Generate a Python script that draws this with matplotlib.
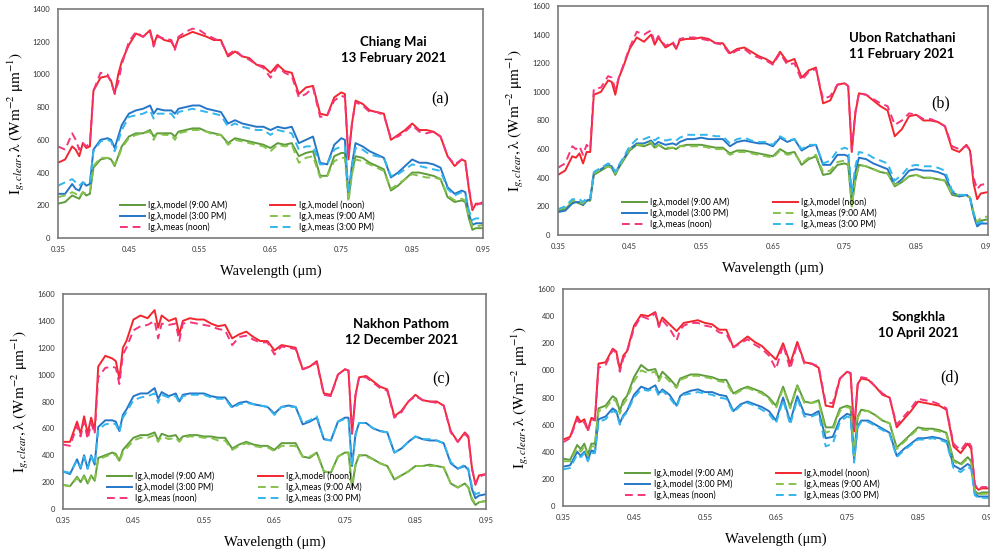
import matplotlib
matplotlib.use("Agg")
import matplotlib.pyplot as plt
import numpy as np

plt.rcParams['font.family'] = ['Lato', 'DejaVu Sans']
plt.rcParams['mathtext.fontset'] = 'stix'

# shared wavelength grid (um)
wl = [0.35, 0.36, 0.37, 0.375, 0.38, 0.385, 0.39, 0.395,
      0.40, 0.41, 0.42, 0.425, 0.43, 0.435, 0.44,
      0.45, 0.46, 0.47, 0.48, 0.485, 0.49, 0.50, 0.51, 0.515, 0.52, 0.53, 0.54,
      0.55, 0.56, 0.57, 0.58, 0.59, 0.60, 0.61, 0.62, 0.63, 0.64, 0.65, 0.66, 0.67, 0.68, 0.69, 0.70, 0.71, 0.72, 0.73, 0.74, 0.75,
      0.755, 0.76, 0.765,
      0.77, 0.78, 0.79, 0.80, 0.81, 0.82, 0.83, 0.84, 0.85, 0.86, 0.87, 0.88, 0.89, 0.90, 0.91, 0.92,
      0.925, 0.93, 0.935, 0.94, 0.95]

# (a) Chiang Mai
a_model_9am = [210, 220, 260, 250, 240, 280, 260, 270,
               430, 480, 490, 480, 440, 500, 560,
               620, 640, 640, 660, 620, 640, 640, 640, 620, 650, 660, 670,
               670, 650, 640, 630, 580, 610, 600, 590, 580, 570, 550, 580, 570, 580, 500, 520, 530, 380, 380, 500, 520,
               520, 240, 400,
               500, 490, 460, 440, 420, 290, 320, 360, 400, 400, 390, 380, 360, 250, 220, 230,
               220, 120, 50, 60, 60]
a_model_noon = [460, 480, 560, 540, 500, 580, 550, 560,
                900, 980, 990, 960, 880, 1000, 1080,
                1180, 1250, 1230, 1270, 1180, 1240, 1210, 1200, 1160, 1220, 1240, 1260,
                1245, 1230, 1210, 1210, 1110, 1140, 1110, 1100, 1060, 1050, 1010, 1060, 1020, 1010, 880, 920, 930, 760, 750, 860, 890,
                880, 480, 700,
                840, 820, 780, 770, 760, 600, 630, 660, 700, 660, 660, 650, 620, 500, 440, 480,
                470, 300, 170, 210, 210]
a_model_3pm = [270, 270, 330, 300, 290, 340, 320, 330,
               540, 600, 610, 600, 550, 620, 690,
               760, 780, 790, 810, 760, 790, 780, 780, 760, 790, 800, 810,
               810, 790, 780, 770, 700, 720, 700, 690, 680, 680, 660, 680, 670, 680, 580, 600, 620, 460, 450, 570, 610,
               600, 260, 450,
               580, 560, 530, 510, 490, 370, 400, 440, 480, 460, 460, 450, 430, 310, 270, 290,
               280, 150, 80, 90, 90]
a_meas_9am = [250, 260, 280, 270, 250, 280, 270, 280,
              440, 490, 490, 480, 450, 490, 550,
              610, 630, 640, 650, 600, 640, 630, 630, 600, 640, 650, 660,
              660, 650, 630, 630, 570, 600, 590, 580, 570, 560, 530, 570, 560, 570, 460, 490, 500, 370, 380, 470, 490,
              490, 220, 390,
              480, 470, 450, 430, 410, 300, 330, 360, 390, 380, 370, 370, 360, 260, 230, 240,
              230, 130, 70, 70, 80]
a_meas_noon = [560, 540, 640, 600, 540, 580, 560, 580,
               900, 1010, 1000, 950, 890, 950, 1060,
               1200, 1260, 1230, 1260, 1170, 1230, 1220, 1210, 1150, 1230, 1260, 1280,
               1270, 1240, 1220, 1200, 1120, 1150, 1110, 1090, 1060, 1040, 980, 1050, 1010, 990, 860, 880, 920, 740, 750, 840, 870,
               860, 500, 700,
               830, 810, 770, 770, 750, 610, 620, 650, 690, 650, 640, 650, 620, 500, 450, 480,
               460, 310, 180, 200, 220]
a_meas_3pm = [320, 340, 360, 340, 320, 340, 330, 340,
              530, 590, 600, 590, 530, 590, 660,
              740, 750, 760, 780, 730, 760, 760, 760, 730, 770, 780, 790,
              780, 770, 760, 750, 680, 700, 680, 670, 660, 660, 630, 660, 650, 640, 540, 560, 560, 450, 450, 540, 560,
              560, 270, 440,
              550, 540, 510, 500, 490, 380, 390, 420, 450, 440, 430, 420, 410, 300, 260, 280,
              270, 170, 110, 120, 120]

# (b) Ubon Ratchathani
b_model_9am = [170, 180, 230, 230, 220, 210, 240, 240,
               420, 450, 480, 470, 420, 470, 510,
               590, 630, 620, 640, 610, 630, 600, 610, 600, 620, 630, 630,
               630, 620, 610, 610, 570, 590, 590, 580, 570, 560, 550, 600, 570, 580, 490, 530, 550, 420, 430, 490, 500,
               490, 210, 380,
               490, 480, 460, 440, 430, 340, 370, 410, 420, 400, 400, 390, 380, 280, 270, 280,
               260, 150, 70, 100, 110]
b_model_noon = [420, 450, 550, 540, 570, 500, 580, 580,
                980, 1000, 1080, 1070, 980, 1100, 1160,
                1300, 1380, 1350, 1400, 1330, 1380, 1310, 1340, 1300, 1360, 1370, 1370,
                1380, 1370, 1340, 1340, 1270, 1300, 1310, 1280, 1250, 1230, 1200, 1280, 1210, 1230, 1100, 1150, 1170, 920, 940, 1050, 1060,
                1040, 580, 850,
                990, 980, 940, 900, 870, 690, 740, 830, 840, 800, 800, 790, 760, 600, 580, 630,
                590, 360, 250, 290, 300]
b_model_3pm = [160, 170, 220, 230, 230, 210, 240, 250,
               430, 460, 490, 480, 430, 480, 520,
               600, 640, 640, 660, 630, 650, 630, 640, 630, 650, 670, 670,
               680, 670, 670, 670, 620, 650, 660, 650, 640, 640, 620, 680, 650, 670, 590, 620, 630, 490, 490, 560, 560,
               550, 270, 440,
               540, 530, 500, 480, 460, 350, 390, 450, 460, 450, 450, 440, 420, 300, 270, 280,
               260, 140, 60, 80, 80]
b_meas_9am = [180, 190, 240, 240, 230, 220, 250, 250,
              430, 460, 480, 470, 430, 470, 520,
              600, 630, 630, 650, 600, 630, 610, 610, 600, 620, 620, 620,
              620, 610, 600, 600, 560, 580, 580, 570, 560, 550, 540, 590, 560, 570, 500, 540, 560, 440, 450, 510, 520,
              510, 200, 390,
              490, 480, 460, 440, 430, 350, 370, 410, 420, 400, 400, 390, 380, 290, 280, 280,
              260, 160, 90, 120, 130]
b_meas_noon = [470, 500, 620, 600, 620, 560, 630, 600,
               1020, 1030, 1110, 1100, 1020, 1100, 1170,
               1310, 1420, 1400, 1430, 1340, 1390, 1320, 1350, 1310, 1370, 1380, 1380,
               1370, 1360, 1340, 1330, 1260, 1290, 1300, 1260, 1240, 1220, 1190, 1270, 1190, 1200, 1080, 1140, 1160, 950, 970, 1050, 1060,
               1040, 600, 860,
               990, 980, 950, 920, 900, 770, 800, 850, 840, 810, 810, 790, 760, 620, 600, 620,
               600, 400, 320, 350, 360]
b_meas_3pm = [180, 200, 250, 250, 250, 230, 260, 260,
              440, 470, 500, 490, 440, 490, 530,
              620, 670, 670, 690, 660, 680, 660, 670, 660, 680, 700, 700,
              700, 700, 690, 690, 640, 670, 680, 660, 650, 650, 630, 690, 660, 670, 600, 630, 630, 500, 520, 590, 610,
              600, 300, 480,
              580, 570, 540, 520, 500, 380, 420, 480, 490, 480, 480, 470, 450, 310, 280, 280,
              260, 150, 80, 90, 90]

# (c) Nakhon Pathom
c_model_9am = [180, 170, 240, 200, 250, 190, 250, 210,
               380, 400, 420, 410, 360, 440, 470,
               530, 550, 550, 570, 510, 560, 540, 550, 510, 540, 550, 550,
               540, 540, 530, 530, 450, 480, 500, 480, 470, 470, 440, 490, 490, 490, 390, 380, 420, 280, 270, 390, 420,
               420, 160, 330,
               400, 400, 370, 340, 320, 220, 250, 280, 320, 320, 330, 320, 310, 190, 160, 190,
               160, 70, 30, 50, 60]
c_model_noon = [500, 500, 650, 560, 690, 560, 680, 580,
                1060, 1140, 1120, 1100, 970, 1200, 1250,
                1410, 1440, 1420, 1480, 1350, 1440, 1400, 1420, 1300, 1400, 1420, 1410,
                1410, 1380, 1360, 1370, 1270, 1300, 1320, 1280, 1250, 1250, 1180, 1220, 1210, 1200, 1040, 1060, 1100, 860, 850, 1000, 1040,
                1030, 560, 850,
                980, 990, 950, 910, 890, 690, 730, 800, 850, 810, 800, 800, 770, 580, 500, 570,
                540, 310, 180, 250, 260]
c_model_3pm = [280, 260, 370, 300, 400, 300, 400, 330,
               610, 660, 660, 650, 580, 700, 740,
               840, 860, 860, 900, 820, 870, 840, 860, 800, 850, 860, 860,
               860, 840, 830, 830, 760, 790, 800, 780, 770, 760, 710, 760, 770, 760, 630, 650, 680, 520, 510, 650, 680,
               680, 320, 560,
               640, 640, 600, 580, 570, 420, 450, 500, 540, 520, 510, 510, 490, 340, 300, 320,
               290, 150, 80, 100, 110]
c_meas_9am = [180, 170, 230, 200, 240, 190, 240, 210,
              370, 390, 410, 400, 350, 420, 450,
              510, 530, 530, 550, 500, 540, 520, 530, 500, 530, 540, 540,
              530, 530, 510, 510, 440, 470, 490, 470, 460, 460, 430, 470, 470, 470, 390, 390, 420, 280, 270, 390, 420,
              420, 170, 330,
              400, 390, 370, 340, 320, 220, 250, 280, 320, 320, 320, 320, 310, 190, 160, 190,
              160, 80, 40, 50, 60]
c_meas_noon = [480, 470, 620, 540, 650, 520, 640, 560,
               980, 1050, 1060, 1050, 930, 1150, 1200,
               1330, 1360, 1370, 1400, 1270, 1380, 1370, 1380, 1250, 1380, 1390, 1380,
               1370, 1360, 1340, 1330, 1220, 1280, 1290, 1260, 1240, 1240, 1150, 1210, 1200, 1190, 1040, 1060, 1090, 850, 840, 1000, 1040,
               1030, 570, 850,
               980, 980, 940, 900, 880, 680, 720, 800, 840, 810, 800, 790, 770, 570, 500, 560,
               530, 300, 190, 240, 260]
c_meas_3pm = [280, 270, 360, 310, 390, 300, 390, 330,
              590, 630, 640, 630, 570, 680, 720,
              810, 830, 840, 860, 790, 850, 830, 840, 790, 840, 850, 850,
              850, 830, 820, 820, 750, 780, 790, 780, 770, 760, 700, 760, 760, 760, 640, 660, 690, 520, 510, 650, 670,
              670, 320, 550,
              640, 640, 600, 580, 570, 420, 450, 500, 540, 520, 520, 510, 490, 350, 300, 330,
              300, 170, 110, 120, 130]

# (d) Songkhla
d_model_9am = [350, 340, 450, 420, 460, 380, 460, 460,
               720, 740, 810, 790, 700, 780, 810,
               950, 1040, 1000, 1010, 940, 990, 940, 880, 940, 950, 970, 970,
               960, 950, 930, 930, 830, 860, 880, 860, 840, 800, 740, 880, 730, 890, 770, 760, 780, 580, 580, 720, 740,
               730, 380, 660,
               710, 700, 670, 630, 610, 430, 480, 530, 580, 570, 570, 560, 540, 340, 310, 360,
               330, 110, 90, 100, 100]
d_model_noon = [490, 510, 660, 620, 640, 560, 650, 640,
                1050, 1060, 1160, 1140, 1010, 1110, 1140,
                1330, 1410, 1400, 1430, 1330, 1390, 1340, 1290, 1320, 1350, 1360, 1370,
                1350, 1340, 1300, 1300, 1170, 1210, 1250, 1210, 1180, 1130, 1080, 1200, 1050, 1210, 1060, 1050, 1020, 740, 730, 940, 990,
                980, 550, 900,
                940, 930, 880, 820, 800, 580, 640, 700, 770, 760, 750, 740, 710, 440, 390, 460,
                420, 150, 120, 130, 130]
d_model_3pm = [290, 300, 400, 370, 400, 340, 410, 400,
               640, 660, 720, 700, 610, 670, 700,
               820, 880, 860, 890, 830, 860, 820, 740, 810, 830, 850, 860,
               840, 840, 820, 810, 700, 750, 770, 750, 730, 700, 630, 800, 620, 810, 680, 670, 700, 500, 510, 640, 680,
               670, 340, 590,
               630, 630, 600, 570, 540, 370, 420, 460, 500, 500, 510, 500, 480, 300, 270, 310,
               290, 90, 70, 70, 70]
d_meas_9am = [330, 330, 430, 400, 440, 370, 440, 440,
              700, 720, 790, 770, 680, 750, 790,
              920, 1000, 980, 990, 920, 970, 920, 870, 930, 940, 960, 960,
              950, 940, 920, 910, 820, 850, 870, 850, 830, 790, 720, 870, 720, 880, 760, 760, 770, 540, 560, 700, 730,
              720, 370, 650,
              700, 700, 670, 630, 610, 420, 470, 520, 570, 560, 560, 550, 530, 330, 300, 350,
              320, 100, 80, 90, 90]
d_meas_noon = [470, 500, 640, 600, 620, 550, 640, 630,
               1020, 1040, 1150, 1130, 990, 1090, 1130,
               1310, 1400, 1380, 1420, 1320, 1370, 1310, 1220, 1300, 1330, 1350, 1350,
               1330, 1320, 1280, 1270, 1170, 1200, 1230, 1190, 1160, 1110, 1010, 1190, 1010, 1200, 1050, 1050, 1030, 760, 760, 940, 990,
               980, 560, 890,
               950, 940, 880, 830, 800, 600, 660, 720, 790, 780, 770, 750, 720, 460, 410, 480,
               440, 160, 120, 140, 140]
d_meas_3pm = [270, 280, 380, 360, 390, 330, 390, 390,
              620, 640, 700, 690, 600, 660, 690,
              800, 860, 850, 870, 810, 850, 800, 730, 800, 820, 830, 840,
              830, 820, 800, 790, 690, 740, 760, 740, 710, 680, 610, 780, 600, 790, 660, 660, 680, 440, 460, 620, 660,
              650, 320, 580,
              620, 620, 590, 560, 530, 360, 410, 450, 490, 490, 500, 490, 470, 280, 250, 290,
              270, 80, 60, 60, 60]

x_ticks = [0.35, 0.45, 0.55, 0.65, 0.75, 0.85, 0.95]
x_ticklabels = ['0.35', '0.45', '0.55', '0.65', '0.75', '0.85', '0.95']
a_yticks = [0, 200, 400, 600, 800, 1000, 1200, 1400]
a_yticklabels = ['0', '200', '400', '600', '800', '1000', '1200', '1400']
bc_yticks = [0, 200, 400, 600, 800, 1000, 1200, 1400, 1600]
bc_yticklabels = ['0', '200', '400', '600', '800', '1000', '1200', '1400', '1600']
d_yticklabels = ['0', '200', '400', '600', '800', '000', '200', '400', '1600']

series_labels = ['Ig,λ,model (9:00 AM)', 'Ig,λ,model (noon)', 'Ig,λ,model (3:00 PM)',
                 'Ig,λ,meas (9:00 AM)', 'Ig,λ,meas (noon)', 'Ig,λ,meas (3:00 PM)']
series_colors = ['#5E9C3C', '#F2262E', '#2676C8', '#86C24C', '#F5357A', '#33B6EC']
series_dashed = [False, False, False, True, True, True]

panels = [
    dict(pos=[0.0586, 0.5704, 0.4293, 0.4134], ylim=1400, yt=a_yticks, ytl=a_yticklabels,
         data=[a_model_9am, a_model_noon, a_model_3pm, a_meas_9am, a_meas_noon, a_meas_3pm],
         title='Chiang Mai\n13 February 2021', tpos=(0.79, 0.82), tag='(a)', gpos=(0.90, 0.607),
         lpos=(0.445, 0.0)),
    dict(pos=[0.5636, 0.5758, 0.4343, 0.4134], ylim=1600, yt=bc_yticks, ytl=bc_yticklabels,
         data=[b_model_9am, b_model_noon, b_model_3pm, b_meas_9am, b_meas_noon, b_meas_3pm],
         title='Ubon Ratchathani\n11 February 2021', tpos=(0.80, 0.825), tag='(b)', gpos=(0.89, 0.576),
         lpos=(0.445, 0.0)),
    dict(pos=[0.0636, 0.0812, 0.4273, 0.3881], ylim=1600, yt=bc_yticks, ytl=bc_yticklabels,
         data=[c_model_9am, c_model_noon, c_model_3pm, c_meas_9am, c_meas_noon, c_meas_3pm],
         title='Nakhon Pathom\n12 December 2021', tpos=(0.80, 0.823), tag='(c)', gpos=(0.894, 0.605),
         lpos=(0.405, 0.0)),
    dict(pos=[0.5687, 0.0866, 0.4303, 0.3917], ylim=1600, yt=bc_yticks, ytl=d_yticklabels,
         data=[d_model_9am, d_model_noon, d_model_3pm, d_meas_9am, d_meas_noon, d_meas_3pm],
         title='Songkhla\n10 April 2021', tpos=(0.835, 0.834), tag='(d)', gpos=(0.908, 0.594),
         lpos=(0.445, 0.0)),
]

ylab = r'$\mathrm{I}_{g,clear}\mathrm{,\lambda\ (Wm^{-2}\ \mu m^{-1})}$'

fig = plt.figure(figsize=(9.9, 5.54), dpi=100)
for p in panels:
    ax = fig.add_axes(p['pos'])
    lines = []
    for vals, lab, col, dsh in zip(p['data'], series_labels, series_colors, series_dashed):
        ln, = ax.plot(wl, vals, color=col, lw=1.4, label=lab,
                      linestyle=(0, (4, 2.5)) if dsh else '-')
        lines.append(ln)
    ax.set_xlim(0.35, 0.95)
    ax.set_ylim(0, p['ylim'])
    ax.set_xticks(x_ticks)
    ax.set_xticklabels(x_ticklabels)
    ax.set_yticks(p['yt'])
    ax.set_yticklabels(p['ytl'])
    ax.tick_params(length=0, labelsize=5.5, colors='#333333', pad=6)
    for s in ax.spines.values():
        s.set_color('#7a7a7a')
        s.set_linewidth(1.2)
    ax.set_xlabel('Wavelength (μm)', family='Liberation Serif', fontsize=10.5, labelpad=8)
    ax.set_ylabel(ylab, fontsize=11, labelpad=4)
    ax.text(p['tpos'][0], p['tpos'][1], p['title'], transform=ax.transAxes, ha='center', va='center',
            fontsize=9.5, fontweight='bold', linespacing=1.35)
    ax.text(p['gpos'][0], p['gpos'][1], p['tag'], transform=ax.transAxes, ha='center', va='center',
            family='Liberation Serif', fontsize=11.5)
    order = [0, 2, 4, 1, 3, 5]
    ax.legend([lines[i] for i in order], [series_labels[i] for i in order], ncol=2, frameon=False,
              loc='lower center', bbox_to_anchor=p['lpos'], fontsize=6.2, handlelength=2.9,
              handletextpad=0.4, columnspacing=5.0, labelspacing=0.15, borderpad=0.2)

fig.savefig('out.png', dpi=100)
